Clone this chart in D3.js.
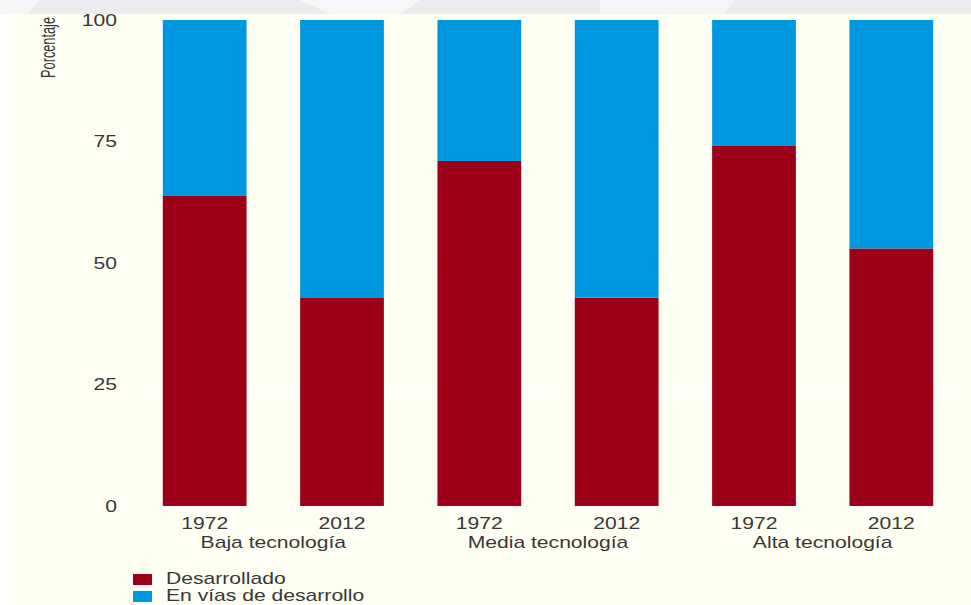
<!DOCTYPE html>
<html>
<head>
<meta charset="utf-8">
<script src="https://cdn.jsdelivr.net/npm/d3@7"></script>
<style>
  body { margin: 0; background: #ffffff; }
  text { font-family: "Liberation Sans", Arial, sans-serif; fill: #383838; }
</style>
</head>
<body>
<div id="chart"></div>
<script>
// data
const groups = ["Baja tecnología", "Media tecnología", "Alta tecnología"];
const years = ["1972", "2012"];
const desarrollado = [63.8, 42.8, 71.0, 42.9, 74.2, 53.0];
const enVias = [36.2, 57.2, 29.0, 57.1, 25.8, 47.0];
const yTicks = [0, 25, 50, 75, 100];
const seriesNames = ["Desarrollado", "En vías de desarrollo"];
const colors = ["#9d0019", "#0097e1"];

const W = 971, H = 605;
const sx = 1.32; // picture is stretched sideways

const svg = d3.select("#chart").append("svg")
    .attr("width", W)
    .attr("height", H);

// backgrounds
svg.append("rect").attr("x", 0).attr("y", 0).attr("width", W).attr("height", 14).attr("fill", "#ececf0");
svg.append("path").attr("d", "M0,0 L40,0 L28,14 L0,14 Z").attr("fill", "#f6f6f8");
svg.append("path").attr("d", "M300,0 L420,0 L400,14 L330,14 Z").attr("fill", "#f7f7f9");
svg.append("path").attr("d", "M600,0 L735,0 L725,14 L600,14 Z").attr("fill", "#f5f5f7");
svg.append("rect").attr("x", 8).attr("y", 14).attr("width", W - 8).attr("height", H - 14).attr("fill", "#fffef3");

// build one row per bar
const bars = [];
groups.forEach(function(g, gi) {
    years.forEach(function(yr, yi) {
        const i = gi * years.length + yi;
        bars.push({ key: g + "|" + yr, group: g, year: yr, dev: desarrollado[i], via: enVias[i] });
    });
});

const x = d3.scaleBand()
    .domain(bars.map(d => d.key))
    .range([136, 960])
    .paddingInner(0.39)
    .paddingOuter(0.195);

const y = d3.scaleLinear()
    .domain([0, 100])
    .range([506, 20]);

// white gridlines
svg.append("g")
    .selectAll("line")
    .data(yTicks)
    .enter()
    .append("line")
    .attr("x1", 133)
    .attr("x2", 962)
    .attr("y1", d => y(d))
    .attr("y2", d => y(d))
    .attr("stroke", "#ffffff")
    .attr("stroke-width", 1.5);

// tick labels
svg.append("g")
    .selectAll("text")
    .data(yTicks)
    .enter()
    .append("text")
    .attr("transform", d => "translate(117," + y(d) + ") scale(" + sx + ",1)")
    .attr("text-anchor", "end")
    .attr("dy", "0.36em")
    .style("font-size", "16px")
    .text(d => d);

// axis title (condensed)
svg.append("text")
    .attr("transform", "translate(55,17) scale(" + sx + ",1) rotate(-90) scale(0.85,1)")
    .attr("text-anchor", "end")
    .style("font-size", "15px")
    .text("Porcentaje");

// stacked bars
const stack = d3.stack().keys(["dev", "via"]);
const layers = stack(bars);

svg.append("g")
    .selectAll("g")
    .data(layers)
    .enter()
    .append("g")
    .attr("fill", (d, i) => colors[i])
    .selectAll("rect")
    .data(d => d)
    .enter()
    .append("rect")
    .attr("x", d => x(d.data.key))
    .attr("width", x.bandwidth())
    .attr("y", d => y(d[1]))
    .attr("height", d => y(d[0]) - y(d[1]));

// year labels
svg.append("g")
    .selectAll("text")
    .data(bars)
    .enter()
    .append("text")
    .attr("transform", d => "translate(" + (x(d.key) + x.bandwidth() / 2) + ",529) scale(" + sx + ",1)")
    .attr("text-anchor", "middle")
    .style("font-size", "16px")
    .text(d => d.year);

// group labels, centred under each pair
svg.append("g")
    .selectAll("text")
    .data(groups)
    .enter()
    .append("text")
    .attr("transform", function(g) {
        const first = x(g + "|" + years[0]);
        const last = x(g + "|" + years[years.length - 1]) + x.bandwidth();
        return "translate(" + ((first + last) / 2) + ",548) scale(" + sx + ",1)";
    })
    .attr("text-anchor", "middle")
    .style("font-size", "16px")
    .text(d => d);

// legend
const legend = svg.append("g")
    .selectAll("g")
    .data(seriesNames)
    .enter()
    .append("g")
    .attr("transform", (d, i) => "translate(133," + (574 + i * 17) + ")");

legend.append("rect")
    .attr("width", 19)
    .attr("height", 11)
    .attr("fill", (d, i) => colors[i]);

legend.append("text")
    .attr("transform", "translate(33,10) scale(" + sx + ",1)")
    .style("font-size", "16px")
    .text(d => d);
</script>
</body>
</html>
